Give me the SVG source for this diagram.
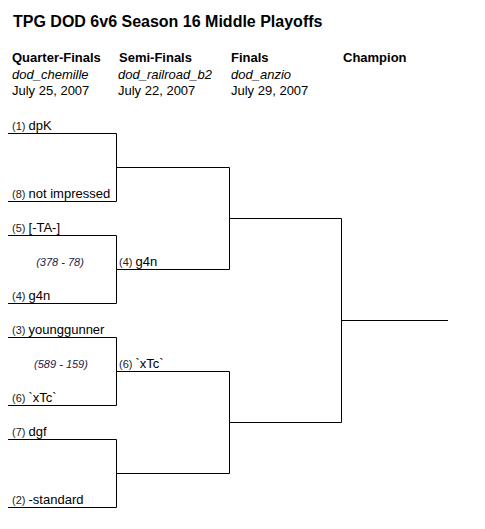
<svg xmlns="http://www.w3.org/2000/svg" width="485" height="529" viewBox="0 0 485 529">
<style>
.t{font-family:"Liberation Sans",Arial,sans-serif;fill:#000}
.lb{font-size:11px}
.title{font-size:16px;font-weight:bold}
.h{font-size:13px;font-weight:bold}
.m{font-size:13px;font-style:italic}
.d{font-size:13px}
.n{font-size:13px}
.s{font-size:11px;fill:#222}
.sc{font-family:"Liberation Sans",Arial,sans-serif;font-size:11px;font-style:italic;fill:#222244;text-anchor:middle}
.ln{fill:none;stroke:#000;stroke-width:1}
</style>
<rect width="485" height="529" fill="#fff"/>
<text class="t title" x="13" y="27">TPG DOD 6v6 Season 16 Middle Playoffs</text>
<g id="headers">
<text class="t h" x="12" y="62">Quarter-Finals</text>
<text class="t h" x="119" y="62">Semi-Finals</text>
<text class="t h" x="231" y="62">Finals</text>
<text class="t h" x="343" y="62">Champion</text>
<text class="t m" x="12" y="79">dod_chemille</text>
<text class="t m" x="118" y="79">dod_railroad_b2</text>
<text class="t m" x="231" y="79">dod_anzio</text>
<text class="t d" x="12" y="95">July 25, 2007</text>
<text class="t d" x="118" y="95">July 22, 2007</text>
<text class="t d" x="231" y="95">July 29, 2007</text>
</g>
<g id="connectors">
<path class="ln" d="M8 133.5H116.5V201.5H8"/>
<path class="ln" d="M8 235.5H116.5V303.5H8"/>
<path class="ln" d="M8 337.5H116.5V405.5H8"/>
<path class="ln" d="M8 439.5H116.5V507.5H8"/>
<path class="ln" d="M116.5 167.5H229.5V269.5H116.5"/>
<path class="ln" d="M116.5 371.5H229.5V473.5H116.5"/>
<path class="ln" d="M229.5 218.5H341.5V422.5H229.5"/>
<path class="ln" d="M341.5 320.5H448"/>
</g>
<g id="qf1"><text class="t lb" x="12" y="130"><tspan class="s">(1)</tspan> <tspan class="n">dpK</tspan></text></g>
<g id="qf2"><text class="t lb" x="12" y="198"><tspan class="s">(8)</tspan> <tspan class="n">not impressed</tspan></text></g>
<g id="qf3"><text class="t lb" x="12" y="232"><tspan class="s">(5)</tspan> <tspan class="n">[-TA-]</tspan></text></g>
<g id="qf4"><text class="t lb" x="12" y="300"><tspan class="s">(4)</tspan> <tspan class="n">g4n</tspan></text></g>
<g id="qf5"><text class="t lb" x="12" y="334"><tspan class="s">(3)</tspan> <tspan class="n">younggunner</tspan></text></g>
<g id="qf6"><text class="t lb" x="12" y="402"><tspan class="s">(6)</tspan> <tspan class="n">`xTc`</tspan></text></g>
<g id="qf7"><text class="t lb" x="12" y="436"><tspan class="s">(7)</tspan> <tspan class="n">dgf</tspan></text></g>
<g id="qf8"><text class="t lb" x="12" y="504"><tspan class="s">(2)</tspan> <tspan class="n">-standard</tspan></text></g>
<g id="score1"><text class="sc" x="60" y="266">(378 - 78)</text></g>
<g id="score2"><text class="sc" x="61" y="368">(589 - 159)</text></g>
<g id="sf1"><text class="t lb" x="119" y="266"><tspan class="s">(4)</tspan> <tspan class="n">g4n</tspan></text></g>
<g id="sf2"><text class="t lb" x="119" y="368"><tspan class="s">(6)</tspan> <tspan class="n">`xTc`</tspan></text></g>
</svg>
